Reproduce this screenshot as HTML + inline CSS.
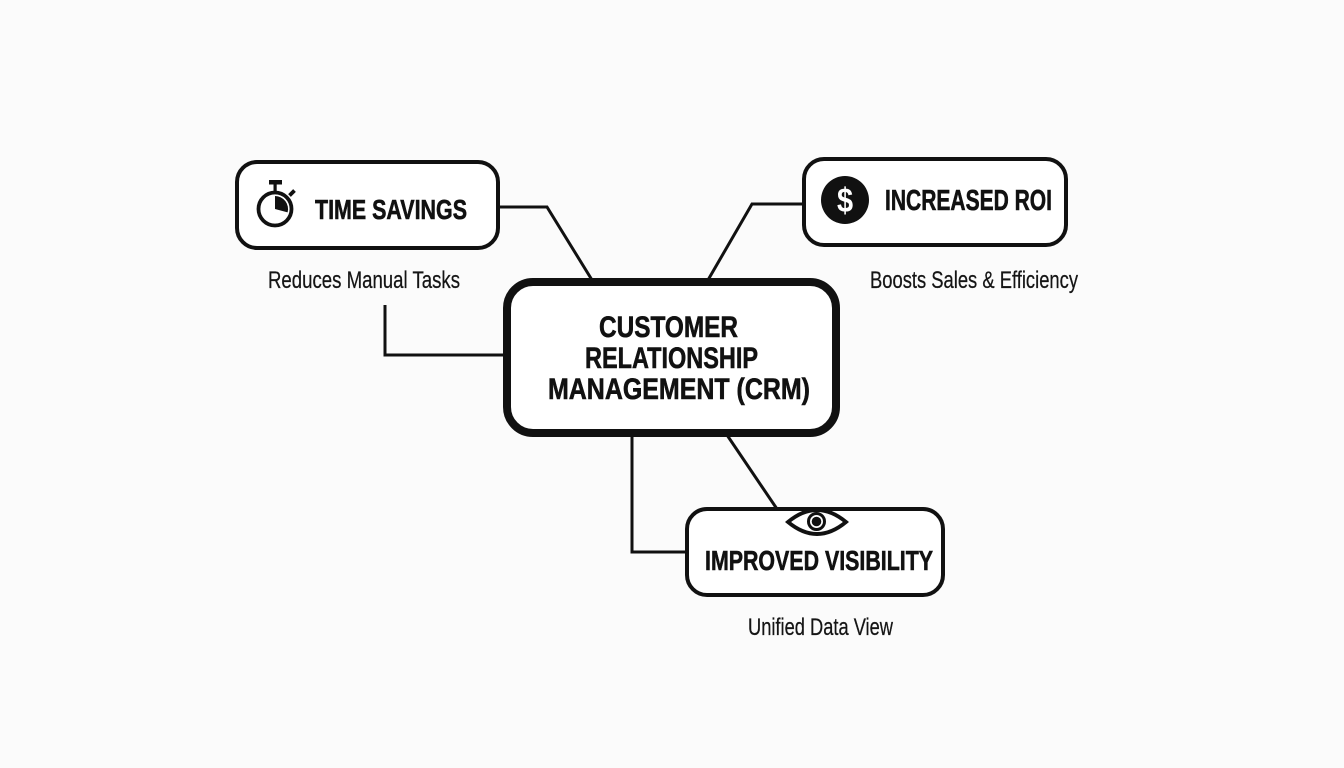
<!DOCTYPE html>
<html>
<head>
<meta charset="utf-8">
<style>
  html,body{margin:0;padding:0;background:#fbfbfb;}
  svg{display:block;}
  .t{font-family:"Liberation Sans Narrow","Liberation Sans",Arial,sans-serif;font-weight:bold;fill:#111;stroke:#111;stroke-width:0.6;}
  .s{font-family:"Liberation Sans Narrow","Liberation Sans",Arial,sans-serif;font-weight:normal;fill:#151515;stroke:#151515;stroke-width:0.25;}
</style>
</head>
<body>
<svg width="1344" height="768" viewBox="0 0 1344 768" xmlns="http://www.w3.org/2000/svg">
  <rect x="0" y="0" width="1344" height="768" fill="#fbfbfb"/>

  <!-- connectors -->
  <g fill="none" stroke="#111" stroke-width="3" stroke-linejoin="miter">
    <polyline points="500,207 547,207 592,280"/>
    <polyline points="802,204 752,204 708,280"/>
    <polyline points="385,305 385,355 505,355"/>
    <polyline points="632,435 632,552 687,552"/>
    <polyline points="727,435 777,509"/>
  </g>

  <!-- boxes -->
  <rect x="237" y="162" width="261" height="86" rx="20" ry="20" fill="#fff" stroke="#111" stroke-width="4"/>
  <rect x="804" y="159" width="262" height="86" rx="20" ry="20" fill="#fff" stroke="#111" stroke-width="4"/>
  <rect x="687" y="509" width="256" height="86" rx="20" ry="20" fill="#fff" stroke="#111" stroke-width="4"/>
  <rect x="507" y="282" width="329" height="151" rx="26" ry="26" fill="#fff" stroke="#111" stroke-width="8"/>

  <!-- stopwatch icon -->
  <g>
    <circle cx="275" cy="209" r="16.5" fill="none" stroke="#111" stroke-width="3.8"/>
    <path d="M275,209 L275,196 A13,13 0 0 1 287.6,212.4 Z" fill="#111"/>
    <rect x="269" y="180" width="13" height="4.5" fill="#111"/>
    <rect x="273.5" y="184" width="3.2" height="8" fill="#111"/>
    <line x1="289.5" y1="195.5" x2="294.5" y2="190.5" stroke="#111" stroke-width="3.8"/>
  </g>

  <!-- dollar icon -->
  <circle cx="845" cy="200" r="24" fill="#111"/>
  <text x="845" y="212" text-anchor="middle" font-family="Liberation Sans, Arial, sans-serif" font-weight="bold" font-size="34" fill="#fff" transform="translate(845 0) scale(0.85 1) translate(-845 0)">$</text>

  <!-- eye icon -->
  <g>
    <path d="M788,522 Q817,498 846,522 Q817,546 788,522 Z" fill="#fff" stroke="#111" stroke-width="3.8" stroke-linejoin="miter"/>
    <circle cx="816.5" cy="521.5" r="8" fill="#fff" stroke="#111" stroke-width="3"/>
    <circle cx="816.5" cy="521.5" r="4.8" fill="#111"/>
  </g>

  <!-- titles -->
  <text class="t" x="315" y="219" font-size="28" textLength="152" lengthAdjust="spacingAndGlyphs">TIME SAVINGS</text>
  <text class="t" x="885" y="210" font-size="29" textLength="167" lengthAdjust="spacingAndGlyphs">INCREASED ROI</text>
  <text class="t" x="705" y="570" font-size="28" textLength="228" lengthAdjust="spacingAndGlyphs">IMPROVED VISIBILITY</text>

  <!-- center -->
  <text class="t" x="599" y="337" font-size="30" textLength="139" lengthAdjust="spacingAndGlyphs">CUSTOMER</text>
  <text class="t" x="585" y="368" font-size="30" textLength="173" lengthAdjust="spacingAndGlyphs">RELATIONSHIP</text>
  <text class="t" x="548" y="399" font-size="30" textLength="262" lengthAdjust="spacingAndGlyphs">MANAGEMENT (CRM)</text>

  <!-- subtitles -->
  <text class="s" x="268" y="288" font-size="24" textLength="192" lengthAdjust="spacingAndGlyphs">Reduces Manual Tasks</text>
  <text class="s" x="870" y="288" font-size="24" textLength="208" lengthAdjust="spacingAndGlyphs">Boosts Sales &amp; Efficiency</text>
  <text class="s" x="748" y="635" font-size="24" textLength="145" lengthAdjust="spacingAndGlyphs">Unified Data View</text>
</svg>
</body>
</html>
